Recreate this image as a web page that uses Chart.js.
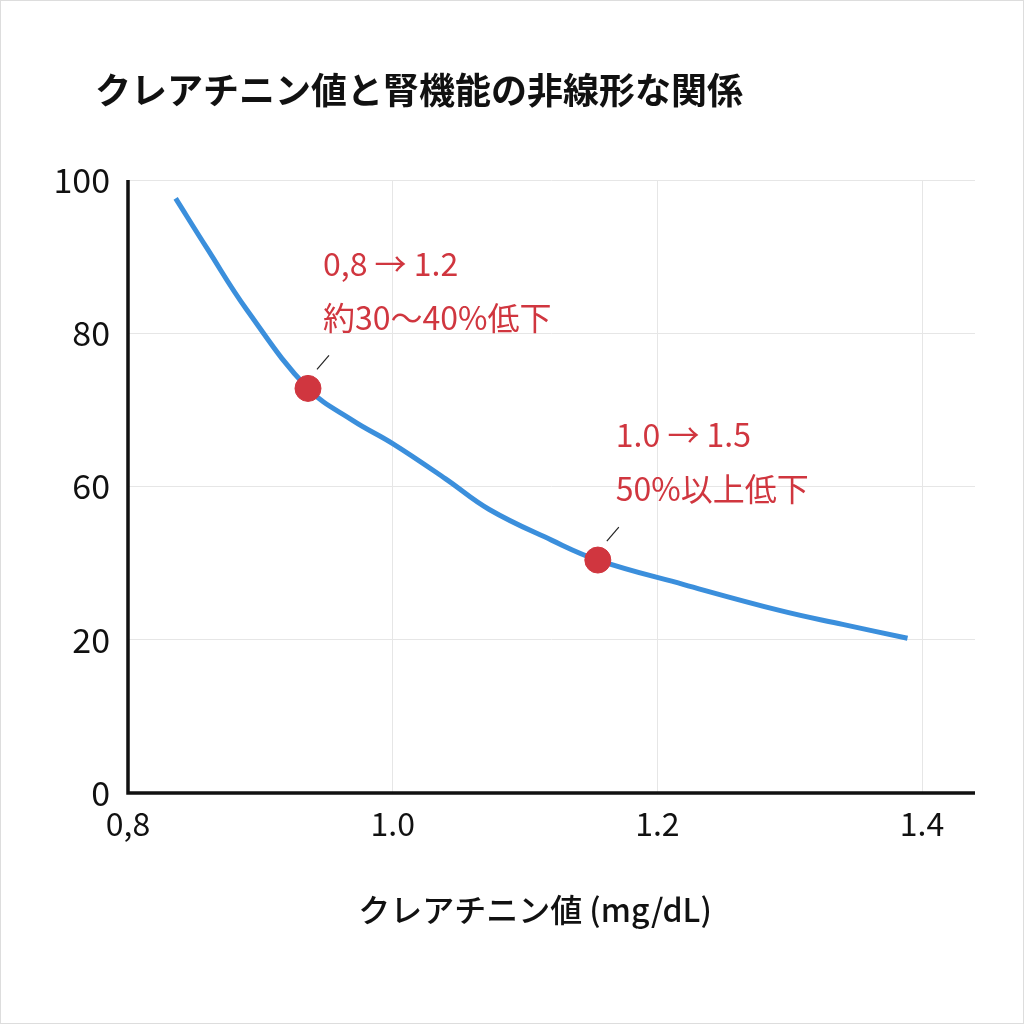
<!DOCTYPE html>
<html><head><meta charset="utf-8">
<script src="https://cdn.jsdelivr.net/npm/chart.js@4"></script>
<style>html,body{margin:0;background:#fff;overflow:hidden}canvas{display:block}</style>
</head><body><canvas id="c" width="1024" height="1024"></canvas>
<script>
const xTickLabels={8:'0,8',10:'1.0',12:'1.2',14:'1.4'};
const yTickLabels=['0','20','60','80','100'];
const curveX=[0.836,0.86,0.89,0.936,0.97,1.0,1.04,1.073,1.12,1.155,1.22,1.293,1.34,1.389];
const curveY=[3.88,3.55,3.15,2.64,2.43,2.28,2.05,1.85,1.65,1.52,1.36,1.19,1.10,1.01];
const markX=[0.936,1.155];
const markY=[2.64,1.52];
const notes=[['0,8 → 1.2','約30～40%低下'],['1.0 → 1.5','50%以上低下']];
const F='"Noto Sans CJK JP","Noto Sans",sans-serif';
const red='#d0363f';
const deco={id:'deco',
 beforeDraw(ch){const c=ch.ctx;c.save();c.fillStyle='#fff';c.fillRect(0,0,1024,1024);
  c.strokeStyle='#ddd';c.lineWidth=1;c.strokeRect(0.5,0.5,1023,1023);c.restore();},
 afterDraw(ch){
  const c=ch.ctx,xs=ch.scales.x,ys=ch.scales.y;
  c.save();
  c.fillStyle='#111';c.font='bold 36px '+F;c.textBaseline='middle';c.textAlign='left';
  c.fillText('クレアチニン値と腎機能の非線形な関係',95,90);
  c.font='500 32px '+F;c.textAlign='center';
  c.fillText('クレアチニン値 (mg/dL)',535,910);
  c.font='400 32px '+F;c.textAlign='left';c.fillStyle=red;
  const off=[[15,-125],[18,-125]];
  markX.forEach((v,i)=>{
    const px=xs.getPixelForValue(v),py=ys.getPixelForValue(markY[i]);
    c.fillText(notes[i][0],px+off[i][0],py+off[i][1]);
    c.fillText(notes[i][1],px+off[i][0],py+off[i][1]+54);
    c.strokeStyle='#222';c.lineWidth=1.2;c.beginPath();
    c.moveTo(px+9,py-19);c.lineTo(px+21,py-33);c.stroke();
  });
  c.strokeStyle='#111';c.lineWidth=3.5;c.beginPath();
  c.moveTo(ch.chartArea.left,ch.chartArea.top);c.lineTo(ch.chartArea.left,ch.chartArea.bottom);
  c.lineTo(ch.chartArea.right,ch.chartArea.bottom);c.stroke();
  c.restore();
}};
new Chart(document.getElementById('c'),{
  type:'scatter',
  data:{datasets:[
    {data:markX.map((x,i)=>({x,y:markY[i]})),pointRadius:13,pointHoverRadius:13,backgroundColor:red,borderColor:red,order:0},
    {type:'line',data:curveX.map((x,i)=>({x,y:curveY[i]})),borderColor:'#3b8fdc',borderWidth:5,pointRadius:0,tension:0.4,fill:false,order:1}
  ]},
  options:{responsive:false,animation:false,devicePixelRatio:1,
    layout:{padding:{top:180,right:49,left:0,bottom:0}},
    plugins:{legend:{display:false},tooltip:{enabled:false}},
    scales:{
      x:{type:'linear',min:0.8,max:1.44,afterFit:s=>{s.height=231;},
        afterBuildTicks:s=>{s.ticks=[0.8,1.0,1.2,1.4].map(v=>({value:v}));},
        ticks:{callback:v=>xTickLabels[Math.round(v*10)],color:'#111',font:{size:32,family:F},padding:12},
        grid:{color:'#e6e6e6',drawTicks:false},border:{display:false}},
      y:{type:'linear',min:0,max:4,afterFit:s=>{s.width=128;},
        ticks:{stepSize:1,callback:v=>yTickLabels[v],color:'#111',font:{size:34,family:F},padding:18},
        grid:{color:'#e6e6e6',drawTicks:false},border:{display:false}}
    }},
  plugins:[deco]});
</script></body></html>
